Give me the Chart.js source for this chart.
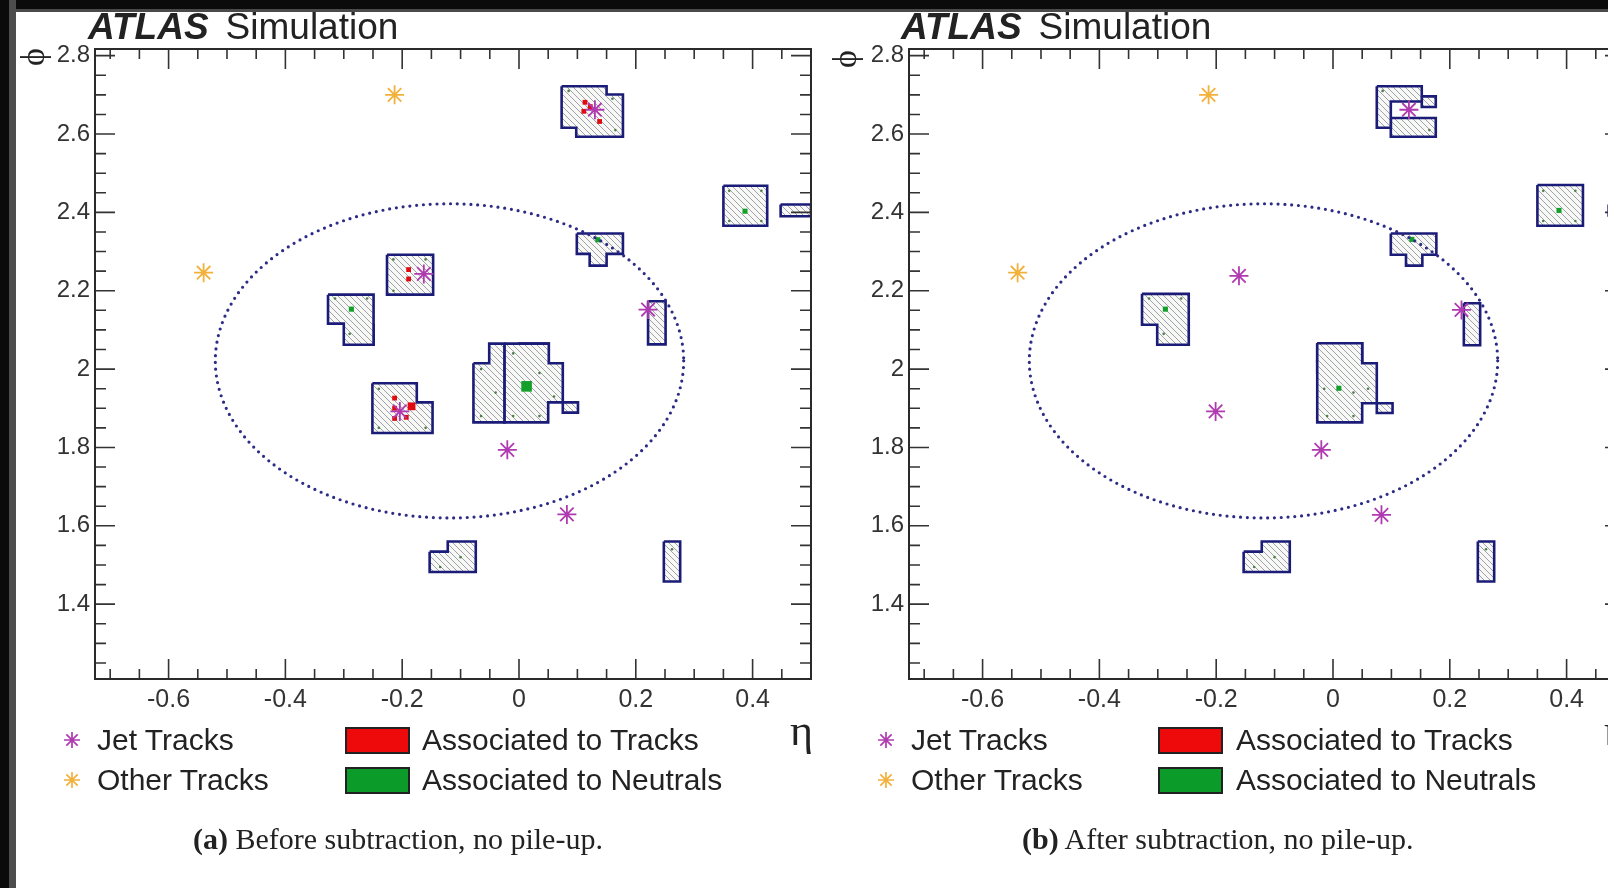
<!DOCTYPE html>
<html>
<head>
<meta charset="utf-8">
<script src="https://cdn.jsdelivr.net/npm/chart.js@4.4.1/dist/chart.umd.min.js"></script>
<style>
html, body { margin: 0; padding: 0; width: 1608px; height: 888px; overflow: hidden; background: #fff; }
#fig { position: relative; width: 1608px; height: 888px; overflow: hidden; font-family: "Liberation Sans", Arial, sans-serif; color: #222; }
canvas { position: absolute; top: 0; }
.edge-top { position: absolute; left: 0; top: 0; width: 1608px; height: 9px; background: #0b0b0b; border-bottom: 3px solid #4a4a4a; }
.edge-left { position: absolute; left: 0; top: 0; width: 9px; height: 888px; background: #0b0b0b; border-right: 7px solid #4d4d4d; }
.atlas { position: absolute; top: 8px; font-size: 37px; line-height: 37px; white-space: nowrap; }
.atlas b { font-style: italic; margin-right: 17px; }
.lg { position: absolute; font-size: 30px; line-height: 30px; white-space: nowrap; }
.box { position: absolute; width: 61px; height: 23px; border: 2px solid #222; }
.eta { position: absolute; font-family: "Liberation Serif", serif; font-size: 44px; line-height: 44px; }
.phi { position: absolute; width: 34px; height: 34px; text-align: center; font-family: "Liberation Serif", serif; font-size: 34px; line-height: 34px; transform: rotate(-90deg); }
.cap { position: absolute; top: 823px; font-family: "Liberation Serif", serif; font-size: 30px; line-height: 32px; white-space: nowrap; }
</style>
</head>
<body>
<div id="fig">
  <canvas id="panelA" width="830" height="888" style="left:0px"></canvas>
  <canvas id="panelB" width="830" height="888" style="left:814px"></canvas>

  <div class="edge-top"></div>
  <div class="edge-left"></div>

  <div class="atlas" style="left:88px"><b>ATLAS</b>Simulation</div>
  <div class="atlas" style="left:901px"><b>ATLAS</b>Simulation</div>

  <div class="phi" style="left:16px;top:40px">ϕ</div>
  <div class="phi" style="left:828px;top:42px">ϕ</div>

  <div class="lg" style="left:97px;top:725px">Jet Tracks</div>
  <div class="lg" style="left:97px;top:765px">Other Tracks</div>
  <div class="box" style="left:345px;top:727px;background:#ee0a0a"></div>
  <div class="box" style="left:345px;top:767px;background:#0b9b28"></div>
  <div class="lg" style="left:422px;top:725px">Associated to Tracks</div>
  <div class="lg" style="left:422px;top:765px">Associated to Neutrals</div>
  <div class="eta" style="left:790px;top:709px">η</div>

  <div class="lg" style="left:911px;top:725px">Jet Tracks</div>
  <div class="lg" style="left:911px;top:765px">Other Tracks</div>
  <div class="box" style="left:1158px;top:727px;background:#ee0a0a"></div>
  <div class="box" style="left:1158px;top:767px;background:#0b9b28"></div>
  <div class="lg" style="left:1236px;top:725px">Associated to Tracks</div>
  <div class="lg" style="left:1236px;top:765px">Associated to Neutrals</div>
  <div class="eta" style="left:1604px;top:709px">η</div>

  <div class="cap" style="left:193px"><b>(a)</b> Before subtraction, no pile-up.</div>
  <div class="cap" style="left:1022px"><b>(b)</b> After subtraction, no pile-up.</div>
</div>

<script>
// axis ranges (eta, phi)
const etaRange = [-0.726, 0.5];
const phiRange = [1.209, 2.817];

// jet cone: centre (eta, phi) and radius
const jetCenter = [-0.119, 2.021];
const jetRadius = 0.401;

// topo-cluster outlines, before subtraction: [eta, phi] vertices
const clustersA = [
    [[0.073, 2.722], [0.150, 2.722], [0.150, 2.701], [0.178, 2.701], [0.178, 2.593], [0.098, 2.593], [0.098, 2.616], [0.073, 2.616]],
    [[0.350, 2.468], [0.425, 2.468], [0.425, 2.366], [0.350, 2.366]],
    [[0.448, 2.420], [0.500, 2.420], [0.500, 2.390], [0.448, 2.390]],
    [[0.099, 2.346], [0.178, 2.346], [0.178, 2.294], [0.150, 2.294], [0.150, 2.264], [0.121, 2.264], [0.121, 2.294], [0.099, 2.294]],
    [[0.221, 2.173], [0.251, 2.173], [0.251, 2.063], [0.221, 2.063]],
    [[-0.226, 2.292], [-0.147, 2.292], [-0.147, 2.190], [-0.226, 2.190]],
    [[-0.327, 2.190], [-0.249, 2.190], [-0.249, 2.062], [-0.300, 2.062], [-0.300, 2.116], [-0.327, 2.116]],
    [[-0.274, 2.113], [-0.249, 2.113], [-0.249, 2.062], [-0.274, 2.062]],
    [[-0.251, 1.964], [-0.175, 1.964], [-0.175, 1.915], [-0.148, 1.915], [-0.148, 1.837], [-0.251, 1.837]],
    [[-0.078, 2.015], [-0.051, 2.015], [-0.051, 2.065], [-0.025, 2.065], [-0.025, 1.864], [-0.078, 1.864]],
    [[-0.025, 2.065], [0.051, 2.065], [0.051, 2.015], [0.075, 2.015], [0.075, 1.915], [0.050, 1.915], [0.050, 1.864], [-0.025, 1.864]],
    [[-0.002, 2.065], [0.051, 2.065], [0.051, 2.015], [0.024, 2.015], [0.024, 2.005], [-0.002, 2.005]],
    [[0.075, 1.915], [0.101, 1.915], [0.101, 1.889], [0.075, 1.889]],
    [[-0.153, 1.534], [-0.122, 1.534], [-0.122, 1.560], [-0.074, 1.560], [-0.074, 1.482], [-0.153, 1.482]],
    [[0.248, 1.560], [0.276, 1.560], [0.276, 1.458], [0.248, 1.458]]
];

// topo-cluster outlines, after subtraction
const clustersB = [
    [[0.075, 2.722], [0.152, 2.722], [0.152, 2.683], [0.099, 2.683], [0.099, 2.616], [0.075, 2.616]],
    [[0.152, 2.696], [0.176, 2.696], [0.176, 2.669], [0.152, 2.669]],
    [[0.099, 2.641], [0.176, 2.641], [0.176, 2.593], [0.099, 2.593]],
    [[0.350, 2.470], [0.428, 2.470], [0.428, 2.366], [0.350, 2.366]],
    [[0.472, 2.420], [0.500, 2.420], [0.500, 2.392], [0.472, 2.392]],
    [[0.099, 2.346], [0.177, 2.346], [0.177, 2.292], [0.153, 2.292], [0.153, 2.264], [0.125, 2.264], [0.125, 2.292], [0.099, 2.292]],
    [[0.224, 2.168], [0.252, 2.168], [0.252, 2.061], [0.224, 2.061]],
    [[-0.327, 2.192], [-0.247, 2.192], [-0.247, 2.062], [-0.301, 2.062], [-0.301, 2.113], [-0.327, 2.113]],
    [[-0.275, 2.113], [-0.247, 2.113], [-0.247, 2.062], [-0.275, 2.062]],
    [[-0.027, 2.066], [0.050, 2.066], [0.050, 2.015], [0.075, 2.015], [0.075, 1.913], [0.050, 1.913], [0.050, 1.864], [-0.027, 1.864]],
    [[-0.027, 2.066], [-0.004, 2.066], [-0.004, 2.020], [-0.027, 2.020]],
    [[-0.004, 2.066], [0.050, 2.066], [0.050, 1.990], [0.028, 1.990], [0.028, 1.969], [0.008, 1.969], [0.008, 1.990], [-0.027, 1.990], [-0.027, 2.020], [-0.004, 2.020]],
    [[0.075, 1.913], [0.102, 1.913], [0.102, 1.888], [0.075, 1.888]],
    [[-0.153, 1.534], [-0.122, 1.534], [-0.122, 1.560], [-0.074, 1.560], [-0.074, 1.482], [-0.153, 1.482]],
    [[0.248, 1.560], [0.276, 1.560], [0.276, 1.458], [0.248, 1.458]]
];

// cells associated to tracks (red) and to neutrals (green)
const trackCellsA = [[0.113, 2.681], [0.111, 2.658], [0.138, 2.632], [0.122, 2.670], [-0.189, 2.254], [-0.189, 2.230],
    [-0.213, 1.926], [-0.213, 1.900], [-0.193, 1.877], [-0.213, 1.874]];
const trackCellsBigA = [[-0.184, 1.905]];
const neutralCellsA = [[0.387, 2.403], [0.135, 2.330], [-0.287, 2.153]];
const neutralCellsBigA = [[0.013, 1.956]];
const neutralCellsB = [[0.387, 2.405], [0.135, 2.331], [-0.287, 2.153], [0.010, 1.951]];

// small cell-energy dots
const cellDotsA = [[0.085, 2.710], [0.165, 2.610], [0.160, 2.690], [0.360, 2.455], [0.415, 2.455], [0.360, 2.378], [0.415, 2.378],
    [-0.215, 2.280], [-0.160, 2.280], [-0.215, 2.200], [-0.315, 2.180], [-0.260, 2.180], [-0.290, 2.090], [-0.240, 1.950],
    [-0.240, 1.850], [-0.160, 1.850], [-0.065, 2.000], [-0.040, 1.940], [-0.065, 1.880], [-0.010, 2.040], [0.035, 1.990],
    [0.060, 1.930], [0.035, 1.880], [-0.010, 1.880], [-0.135, 1.495], [-0.100, 1.520], [0.262, 1.540]];
const cellDotsB = [[0.085, 2.710], [0.165, 2.610], [0.360, 2.455], [0.415, 2.455], [0.360, 2.378], [0.415, 2.378],
    [-0.315, 2.180], [-0.260, 2.180], [-0.290, 2.090], [-0.015, 1.950], [0.035, 1.940], [-0.010, 1.880], [0.035, 1.880],
    [0.060, 1.950], [-0.135, 1.495], [-0.100, 1.520], [0.262, 1.540]];

// tracks
const jetTracksA = [[0.130, 2.662], [-0.163, 2.243], [-0.204, 1.892], [0.221, 2.152], [-0.020, 1.794], [0.082, 1.629]];
const jetTracksB = [[0.130, 2.662], [-0.161, 2.238], [-0.201, 1.892], [0.220, 2.151], [-0.020, 1.794], [0.083, 1.628]];
const otherTracks = [[-0.213, 2.700], [-0.540, 2.246]];

const toXY = list => list.map(p => ({ x: p[0], y: p[1] }));
const isMajor = v => Math.abs(v / 0.2 - Math.round(v / 0.2)) < 1e-6;

function makeHatch() {
    const c = document.createElement('canvas');
    c.width = 6;
    c.height = 6;
    const g = c.getContext('2d');
    g.fillStyle = '#f8f9f5';
    g.fillRect(0, 0, 6, 6);
    g.strokeStyle = '#a0a1b0';
    g.lineWidth = 1;
    g.beginPath();
    g.moveTo(-1, -1); g.lineTo(7, 7);
    g.moveTo(-1, 5); g.lineTo(1, 7);
    g.moveTo(5, -1); g.lineTo(7, 1);
    g.stroke();
    return g.createPattern(c, 'repeat');
}

// ROOT-like frame, inward ticks, jet cone and legend markers
const rootFrame = {
    id: 'rootFrame',
    afterDatasetsDraw(chart) {
        const { ctx, chartArea: a, scales: { x, y } } = chart;
        ctx.save();

        // jet cone, dotted
        const cx = x.getPixelForValue(jetCenter[0]);
        const cy = y.getPixelForValue(jetCenter[1]);
        const rx = x.getPixelForValue(jetCenter[0] + jetRadius) - cx;
        const ry = cy - y.getPixelForValue(jetCenter[1] + jetRadius);
        ctx.strokeStyle = '#2c2c86';
        ctx.lineWidth = 3.2;
        ctx.lineCap = 'round';
        ctx.setLineDash([0, 6.8]);
        ctx.beginPath();
        ctx.ellipse(cx, cy, rx, ry, 0, 0, Math.PI * 2);
        ctx.stroke();
        ctx.setLineDash([]);
        ctx.lineCap = 'butt';

        // ticks
        ctx.strokeStyle = '#333';
        ctx.lineWidth = 1.6;
        ctx.beginPath();
        x.ticks.forEach(t => {
            const px = x.getPixelForValue(t.value);
            const len = t.label ? 20 : 10;
            ctx.moveTo(px, a.bottom); ctx.lineTo(px, a.bottom - len);
            ctx.moveTo(px, a.top); ctx.lineTo(px, a.top + len);
        });
        y.ticks.forEach(t => {
            const py = y.getPixelForValue(t.value);
            const len = t.label ? 20 : 11;
            ctx.moveTo(a.left, py); ctx.lineTo(a.left + len, py);
            ctx.moveTo(a.right, py); ctx.lineTo(a.right - len, py);
        });
        ctx.stroke();

        // frame
        ctx.lineWidth = 2;
        ctx.strokeStyle = '#2a2a2a';
        ctx.strokeRect(a.left, a.top, a.right - a.left, a.bottom - a.top);

        // legend markers
        ctx.lineWidth = 1.7;
        ctx.strokeStyle = '#b03ab0';
        Chart.helpers.drawPoint(ctx, { pointStyle: 'star', radius: 8, borderWidth: 1.7 }, a.left - 23, 740);
        ctx.strokeStyle = '#f2b13a';
        Chart.helpers.drawPoint(ctx, { pointStyle: 'star', radius: 8, borderWidth: 1.7 }, a.left - 23, 780);
        ctx.restore();
    }
};

function makePanel(canvasId, clusters, cells) {
    const hatch = makeHatch();
    const outlineSets = clusters.map(poly => ({
        type: 'line',
        data: toXY(poly.concat([poly[0]])),
        borderColor: '#1b1b78',
        borderWidth: 2.6,
        backgroundColor: hatch,
        fill: 'shape',
        pointRadius: 0,
        tension: 0,
        order: 4
    }));
    const pointSet = (list, style, radius, fillColor, borderColor, width, order) => ({
        type: 'scatter',
        data: toXY(list),
        pointStyle: style,
        pointRadius: radius,
        backgroundColor: fillColor,
        borderColor: borderColor,
        borderWidth: width,
        order: order
    });

    const datasets = outlineSets.concat([
        pointSet(cells.dots, 'circle', 1.3, '#4f7f48', '#4f7f48', 0, 3),
        pointSet(cells.track, 'rect', 3.4, '#e00a10', '#e00a10', 0, 2),
        pointSet(cells.trackBig, 'rect', 5.5, '#e00a10', '#e00a10', 0, 2),
        pointSet(cells.neutral, 'rect', 3.6, '#12a02a', '#12a02a', 0, 2),
        pointSet(cells.neutralBig, 'rect', 7.5, '#12a02a', '#12a02a', 0, 2),
        pointSet(cells.jet, 'star', 9.5, '#b03ab0', '#b03ab0', 1.8, 1),
        pointSet(otherTracks, 'star', 9.5, '#f2b13a', '#f2b13a', 1.8, 1)
    ]);

    return new Chart(document.getElementById(canvasId), {
        type: 'scatter',
        data: { datasets: datasets },
        options: {
            responsive: false,
            animation: false,
            events: [],
            layout: { padding: { left: 0, top: 49, right: 19, bottom: 0 } },
            plugins: { legend: { display: false }, tooltip: { enabled: false } },
            scales: {
                x: {
                    type: 'linear',
                    min: etaRange[0],
                    max: etaRange[1],
                    border: { display: false },
                    grid: { display: false, drawTicks: false },
                    afterFit: s => { s.height = 888 - 679; },
                    ticks: {
                        stepSize: 0.05,
                        includeBounds: false,
                        autoSkip: false,
                        maxRotation: 0,
                        padding: 6,
                        color: '#333',
                        font: { family: 'Liberation Sans', size: 25 },
                        callback: v => isMajor(v) ? String(+v.toFixed(1)) : ''
                    }
                },
                y: {
                    type: 'linear',
                    min: phiRange[0],
                    max: phiRange[1],
                    border: { display: false },
                    grid: { display: false, drawTicks: false },
                    afterFit: s => { s.width = 95; },
                    ticks: {
                        stepSize: 0.05,
                        includeBounds: false,
                        autoSkip: false,
                        padding: 5,
                        color: '#333',
                        font: { family: 'Liberation Sans', size: 24 },
                        callback: v => isMajor(v) ? String(+v.toFixed(1)) : ''
                    }
                }
            }
        },
        plugins: [rootFrame]
    });
}

makePanel('panelA', clustersA, {
    dots: cellDotsA, track: trackCellsA, trackBig: trackCellsBigA,
    neutral: neutralCellsA, neutralBig: neutralCellsBigA, jet: jetTracksA
});
makePanel('panelB', clustersB, {
    dots: cellDotsB, track: [], trackBig: [],
    neutral: neutralCellsB, neutralBig: [], jet: jetTracksB
});
</script>
</body>
</html>
